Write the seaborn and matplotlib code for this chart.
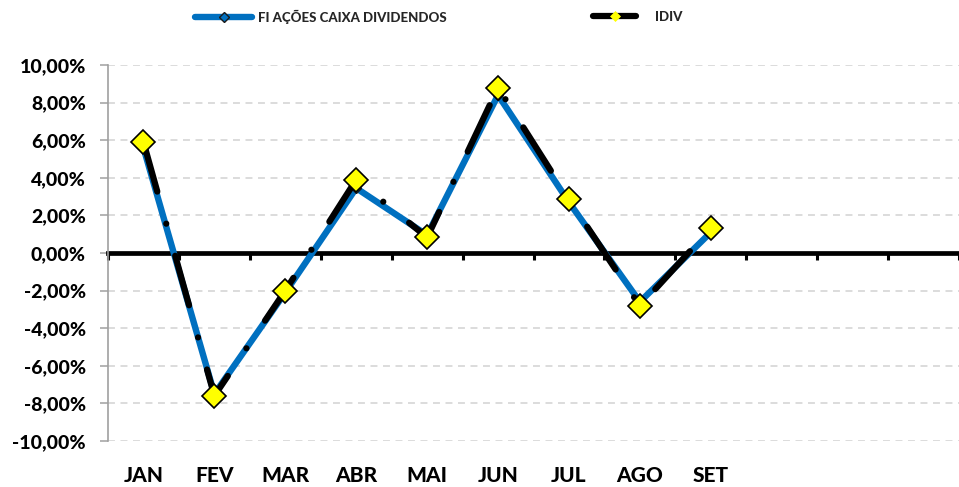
import numpy as np
import pandas as pd
import matplotlib
matplotlib.use("Agg")
import matplotlib.pyplot as plt
from matplotlib.lines import Line2D
import seaborn as sns

months = ["JAN", "FEV", "MAR", "ABR", "MAI", "JUN", "JUL", "AGO", "SET"]
n_slots = 12
fundo = [5.6, -7.5, -2.1, 3.45, 0.95, 8.4, 2.7, -2.6, 1.1]
idiv = [5.9, -7.6, -2.0, 3.9, 0.83, 8.8, 2.86, -2.82, 1.31]
name_fundo = "FI AÇÕES CAIXA DIVIDENDOS"
name_idiv = "IDIV"
yticks = [-10, -8, -6, -4, -2, 0, 2, 4, 6, 8, 10]

sns.set_theme(style="white")
plt.rcParams["font.family"] = ["Lato", "DejaVu Sans"]
plt.rcParams["lines.scale_dashes"] = False

W, H = 959, 487
fig = plt.figure(figsize=(W / 100, H / 100), dpi=100)
left_px, right_px, top_px, bot_px = 108, 959, 65, 441
ax = fig.add_axes([left_px / W, 1 - bot_px / H, (right_px - left_px) / W, (bot_px - top_px) / H])

x = np.arange(len(months))
df = pd.DataFrame({"pos": x, "fundo": fundo, "idiv": idiv})

blue = "#0070C0"
sns.lineplot(data=df, x="pos", y="fundo", ax=ax, color=blue, lw=4.6,
             marker="D", markersize=5, markerfacecolor=blue, markeredgecolor="#1a1a1a",
             markeredgewidth=1.0, solid_capstyle="round", zorder=3)
sns.lineplot(data=df, x="pos", y="idiv", ax=ax, color="black", lw=4.5,
             linestyle=(0, (37, 24, 0.01, 24)), dash_capstyle="round",
             marker="D", markersize=12, markerfacecolor="#FFFF00", markeredgecolor="black",
             markeredgewidth=1.2, zorder=4)

cat_w = 71.3
ax.set_xlim(-0.5, -0.5 + (right_px - left_px) / cat_w)
ax.set_ylim(-10, 10)
ax.set_xlabel("")
ax.set_ylabel("")

# gridlines
for v in yticks:
    if v != 0:
        ax.axhline(v, color="#d9d9d9", lw=1.3, linestyle=(0, (5, 4)), zorder=1)

# y axis
ax.set_yticks(yticks)
ax.set_yticklabels([(f"{v:.2f}".replace(".", ",") + "%") for v in yticks],
                   fontsize=14, fontweight=900, color="black")
ax.tick_params(axis="y", direction="out", length=6, width=1.1, color="#a0a0a0", pad=10, left=True)
for s in ["top", "right"]:
    ax.spines[s].set_visible(False)
ax.spines["left"].set_color("#a0a0a0")
ax.spines["left"].set_linewidth(1.2)

# zero axis with category boundary ticks
ax.spines["bottom"].set_position(("data", 0))
ax.spines["bottom"].set_color("black")
ax.spines["bottom"].set_linewidth(3.4)
ax.spines["bottom"].set_zorder(2)
ax.set_xticks(np.arange(n_slots + 1) - 0.5)
ax.set_xticklabels([])
ax.tick_params(axis="x", direction="out", length=5, width=2.2, color="black", bottom=True)

# month labels at the bottom
sec = ax.secondary_xaxis("bottom")
sec.set_xticks(x)
sec.set_xticklabels(months, fontsize=15, fontweight=900, color="black")
sec.tick_params(axis="x", length=0, pad=18)
sec.spines["bottom"].set_visible(False)

h_fundo = Line2D([], [], color=blue, lw=4.6, marker="D", markersize=5, markerfacecolor=blue,
                 markeredgecolor="#1a1a1a", markeredgewidth=1.0)
h_idiv = Line2D([], [], color="black", lw=4.5, marker="D", markersize=5, markerfacecolor="#FFFF00",
                markeredgecolor="#FFFF00", markeredgewidth=0.5)
fs = 9.5
fs_px = fs * 100 / 72
leg_y = 1 - 17 / H
leg1 = fig.legend([h_fundo], [name_fundo], loc="center left", bbox_to_anchor=(195 / W, leg_y),
                  frameon=False, handlelength=57 / fs_px, handletextpad=6 / fs_px,
                  borderpad=0, borderaxespad=0, prop={"weight": 900, "size": fs})
leg2 = fig.legend([h_idiv], [name_idiv], loc="center left", bbox_to_anchor=(593 / W, leg_y),
                  frameon=False, handlelength=43 / fs_px, handletextpad=19 / fs_px,
                  borderpad=0, borderaxespad=0, prop={"weight": 900, "size": fs})

fig.savefig("out.png", dpi=100)
